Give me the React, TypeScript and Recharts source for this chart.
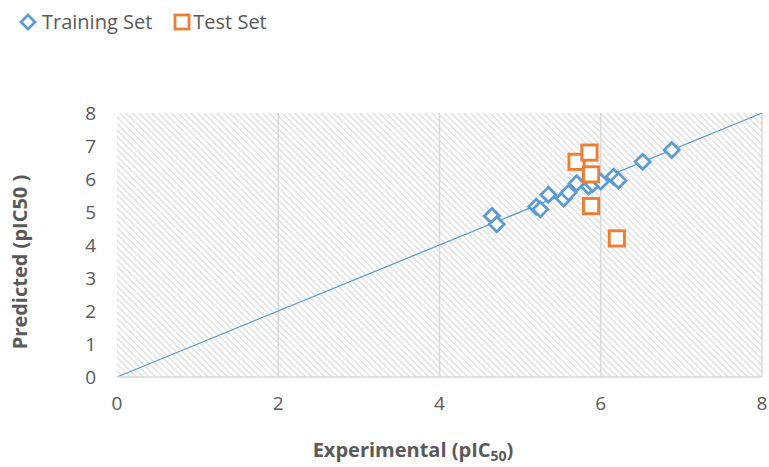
import React from "react";
import {
  ScatterChart,
  Scatter,
  XAxis,
  YAxis,
  CartesianGrid,
  ReferenceArea,
  ReferenceLine,
} from "recharts";

const trainX = [4.65, 4.71, 5.2, 5.25, 5.35, 5.54, 5.6, 5.7, 5.85, 5.9, 6.0, 6.16, 6.22, 6.52, 6.88];
const trainY = [4.88, 4.63, 5.16, 5.08, 5.52, 5.41, 5.58, 5.87, 5.77, 5.85, 5.92, 6.07, 5.95, 6.52, 6.88];
const testX = [5.7, 5.86, 5.88, 5.88, 6.2];
const testY = [6.52, 6.8, 6.14, 5.18, 4.2];
const xTicks = [0, 2, 4, 6, 8];
const yTicks = [0, 1, 2, 3, 4, 5, 6, 7, 8];

const training = trainX.map((x, i) => ({ x, y: trainY[i] }));
const test = testX.map((x, i) => ({ x, y: testY[i] }));

const FONT = "'Open Sans', sans-serif";
const BLUE = "#5B9BD5";
const ORANGE = "#ED7D31";
const GREY = "#595959";

const Diamond = (props: any) => {
  const { cx, cy } = props;
  if (cx == null || cy == null) return null;
  const r = 7.5;
  return (
    <path
      d={`M${cx},${cy - r} L${cx + r},${cy} L${cx},${cy + r} L${cx - r},${cy} Z`}
      fill="#fff"
      stroke={BLUE}
      strokeWidth={2.75}
    />
  );
};

const Square = (props: any) => {
  const { cx, cy } = props;
  if (cx == null || cy == null) return null;
  const h = 7.6;
  return (
    <rect x={cx - h} y={cy - h} width={h * 2} height={h * 2} fill="#fff" stroke={ORANGE} strokeWidth={2.9} />
  );
};

const LegendBox = () => (
  <div
    style={{
      position: "absolute",
      left: 19,
      top: 8,
      display: "flex",
      alignItems: "center",
      fontFamily: FONT,
      fontSize: 20,
      color: GREY,
    }}
  >
    <svg width={18} height={18} style={{ marginRight: 5 }}>
      <path d="M9,2 L16,9 L9,16 L2,9 Z" fill="#fff" stroke={BLUE} strokeWidth={2.75} />
    </svg>
    <span style={{ marginRight: 21 }}>Training Set</span>
    <svg width={18} height={18} style={{ marginRight: 2 }}>
      <rect x={2} y={2} width={14} height={14} fill="#fff" stroke={ORANGE} strokeWidth={2.75} />
    </svg>
    <span>Test Set</span>
  </div>
);

export default function App() {
  return (
    <div style={{ position: "absolute", left: 0, top: 0, width: 769, height: 467, background: "#fff" }}>
      <ScatterChart width={769} height={467} margin={{ top: 113, right: 7, left: 0, bottom: 0 }}>
        <defs>
          <pattern id="hatch" patternUnits="userSpaceOnUse" width={6.5} height={6.5}>
            <path d="M-1,-1 L7.5,7.5 M-7.5,-1 L1,7.5 M5.5,-1 L14,7.5" stroke="#d9d9d9" strokeWidth={1.2} />
          </pattern>
        </defs>
        <ReferenceArea x1={0} x2={8} y1={0} y2={8} fill="url(#hatch)" fillOpacity={1} stroke="none" ifOverflow="visible" />
        <CartesianGrid horizontal={false} vertical stroke="#d9d9d9" strokeWidth={1.5} verticalPoints={[278.2, 439.5, 600.7, 762]} />
        <XAxis
          type="number"
          dataKey="x"
          domain={[0, 8]}
          ticks={xTicks}
          height={90}
          tickLine={false}
          tickSize={0}
          tickMargin={20}
          axisLine={{ stroke: "#d9d9d9", strokeWidth: 1.5 }}
          tick={{ fill: GREY, fontSize: 19, fontFamily: FONT }}
          label={() => (
            <text x={413} y={457} textAnchor="middle" fill={GREY} fontFamily={FONT} fontSize={20} fontWeight="bold">
              Experimental (pIC
              <tspan fontSize={14} dy={4}>50</tspan>
              <tspan dy={-4}>)</tspan>
            </text>
          )}
        />
        <YAxis
          type="number"
          dataKey="y"
          domain={[0, 8]}
          ticks={yTicks}
          width={117}
          tickLine={false}
          tickSize={0}
          tickMargin={21}
          axisLine={false}
          tick={{ fill: GREY, fontSize: 19, fontFamily: FONT }}
          label={() => (
            <text
              x={27}
              y={262}
              textAnchor="middle"
              transform="rotate(-90 27 262)"
              fill={GREY}
              fontFamily={FONT}
              fontSize={20}
              fontWeight="bold"
            >
              Predicted (pIC50 )
            </text>
          )}
        />
        <ReferenceLine
          segment={[{ x: 0, y: 0 }, { x: 8, y: 8 }]}
          stroke={BLUE}
          strokeWidth={1.25}
          ifOverflow="visible"
        />
        <Scatter name="Training Set" data={training} shape={Diamond} isAnimationActive={false} />
        <Scatter name="Test Set" data={test} shape={Square} isAnimationActive={false} />
      </ScatterChart>
      <LegendBox />
    </div>
  );
}
